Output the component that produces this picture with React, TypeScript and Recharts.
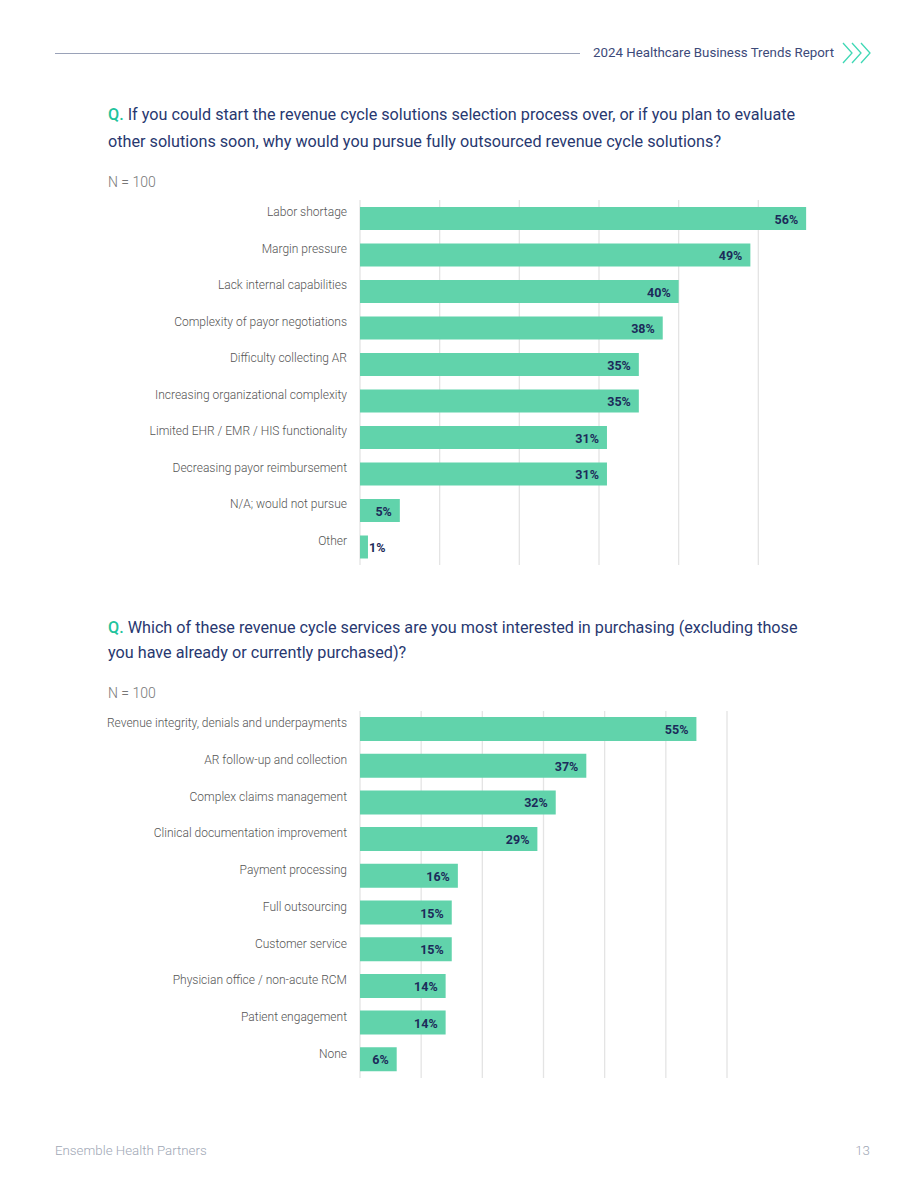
import React from "react";
import { BarChart, Bar, XAxis, YAxis, CartesianGrid, LabelList } from "recharts";

const FONT = "Roboto, 'Open Sans', sans-serif";
const BAR_COLOR = "#61d3ab";
const NAVY = "#283870";
const TEAL = "#22c39c";
const X_MAX = 60;

// Q1: reasons for fully outsourced revenue cycle solutions
const outsourceReasons = [
  "Labor shortage",
  "Margin pressure",
  "Lack internal capabilities",
  "Complexity of payor negotiations",
  "Difficulty collecting AR",
  "Increasing organizational complexity",
  "Limited EHR / EMR / HIS functionality",
  "Decreasing payor reimbursement",
  "N/A; would not pursue",
  "Other",
];
const outsourceValues = [56, 49, 40, 38, 35, 35, 31, 31, 5, 1];
const outsourceTicks = [0, 10, 20, 30, 40, 50];

// Q2: services of most interest
const serviceNames = [
  "Revenue integrity, denials and underpayments",
  "AR follow-up and collection",
  "Complex claims management",
  "Clinical documentation improvement",
  "Payment processing",
  "Full outsourcing",
  "Customer service",
  "Physician office / non-acute RCM",
  "Patient engagement",
  "None",
];
const serviceValues = [55, 37, 32, 29, 16, 15, 15, 14, 14, 6];
const serviceTicks = [0, 10, 20, 30, 40, 50, 60];

const toRows = (names: string[], values: number[]) =>
  names.map((name, i) => ({ name, value: values[i] }));

function CategoryTick(props: any) {
  const { x, y, payload } = props;
  return (
    <text
      x={x}
      y={y}
      dy={-2}
      textAnchor="end"
      fill="#555"
      fontSize={12}
      fontWeight={300}
      fontFamily={FONT}
    >
      {payload.value}
    </text>
  );
}

function ValueLabel(props: any) {
  const { x, y, width, height, value } = props;
  const inside = width > 30;
  return (
    <text
      x={inside ? x + width - 8 : x + width + 1}
      y={y + height / 2}
      dy={5}
      textAnchor={inside ? "end" : "start"}
      fill="#1c2b5a"
      fontSize={12.5}
      fontWeight={700}
      fontFamily={FONT}
    >
      {value}%
    </text>
  );
}

function HBarChart({
  names,
  values,
  ticks,
  top,
  plotHeight,
  rightMargin,
  barSize,
}: {
  names: string[];
  values: number[];
  ticks: number[];
  top: number;
  plotHeight: number;
  rightMargin: number;
  barSize: number;
}) {
  const data = toRows(names, values);
  // vertical grid only at the listed ticks (no extra line at the plot's right edge)
  const gridX = ({ xAxis, offset }: any) =>
    ticks.map((t) =>
      xAxis && typeof xAxis.scale === "function"
        ? xAxis.scale(t)
        : offset.left + (t / X_MAX) * offset.width
    );
  return (
    <div style={{ position: "absolute", left: 0, top }}>
      <BarChart
        layout="vertical"
        width={920}
        height={plotHeight + 20}
        data={data}
        margin={{ top: 10, right: rightMargin, bottom: 10, left: 0 }}
        barCategoryGap={0}
      >
        <CartesianGrid
          horizontal={false}
          stroke="#e4e4e4"
          strokeWidth={1.3}
          verticalCoordinatesGenerator={gridX}
        />
        <XAxis type="number" domain={[0, X_MAX]} ticks={ticks} hide />
        <YAxis
          type="category"
          dataKey="name"
          width={360}
          axisLine={false}
          tickLine={false}
          tickSize={0}
          tickMargin={13}
          interval={0}
          tick={<CategoryTick />}
        />
        <Bar dataKey="value" fill={BAR_COLOR} barSize={barSize} isAnimationActive={false}>
          <LabelList dataKey="value" content={<ValueLabel />} />
        </Bar>
      </BarChart>
    </div>
  );
}

function Text({
  x,
  y,
  size,
  color,
  children,
  right,
  weight,
}: {
  x: number;
  y: number;
  size: number;
  color: string;
  children: React.ReactNode;
  right?: boolean;
  weight?: number;
}) {
  const style: React.CSSProperties = {
    position: "absolute",
    top: y - size * 0.7,
    fontSize: size,
    lineHeight: `${size * 1.4}px`,
    color,
    fontFamily: FONT,
    fontWeight: weight ?? 400,
    whiteSpace: "nowrap",
  };
  if (right) style.right = 920 - x;
  else style.left = x;
  return <div style={style}>{children}</div>;
}

function Chevrons() {
  return (
    <svg
      width={32}
      height={22}
      style={{ position: "absolute", left: 841, top: 42 }}
      fill="none"
      stroke="#3fd8b5"
      strokeWidth={1.3}
    >
      <polyline points="2,1 11,11 2,21" />
      <polyline points="11,1 20,11 11,21" />
      <polyline points="20,1 29,11 20,21" />
    </svg>
  );
}

export default function App() {
  return (
    <div
      style={{
        position: "absolute",
        left: 0,
        top: 0,
        width: 920,
        height: 1191,
        background: "#fff",
        overflow: "hidden",
      }}
    >
      {/* page header */}
      <div
        style={{ position: "absolute", left: 55, top: 53, width: 525, height: 1, background: "#9aa2b8" }}
      />
      <Text x={593} y={53} size={13.3} color="#3c4a79">
        2024 Healthcare Business Trends Report
      </Text>
      <Chevrons />

      {/* question 1 */}
      <Text x={108} y={115} size={16.2} color={NAVY}>
        <span style={{ color: TEAL, fontWeight: 500 }}>Q.</span> If you could start the revenue
        cycle solutions selection process over, or if you plan to evaluate
      </Text>
      <Text x={108} y={142} size={16.2} color={NAVY}>
        other solutions soon, why would you pursue fully outsourced revenue cycle solutions?
      </Text>
      <Text x={108} y={183} size={14} color="#777" weight={300}>
        N = 100
      </Text>
      <HBarChart
        names={outsourceReasons}
        values={outsourceValues}
        ticks={outsourceTicks}
        top={190}
        plotHeight={365}
        rightMargin={82}
        barSize={23}
      />

      {/* question 2 */}
      <Text x={108} y={628} size={16.2} color={NAVY}>
        <span style={{ color: TEAL, fontWeight: 500 }}>Q.</span> Which of these revenue cycle
        services are you most interested in purchasing (excluding those
      </Text>
      <Text x={108} y={653} size={16.2} color={NAVY}>
        you have already or currently purchased)?
      </Text>
      <Text x={108} y={694} size={14} color="#777" weight={300}>
        N = 100
      </Text>
      <HBarChart
        names={serviceNames}
        values={serviceValues}
        ticks={serviceTicks}
        top={701}
        plotHeight={367}
        rightMargin={193}
        barSize={24}
      />

      {/* footer */}
      <Text x={55} y={1151} size={13.3} color="#a0a7b5" weight={300}>
        Ensemble Health Partners
      </Text>
      <Text x={870} y={1151} size={13.3} color="#a0a7b5" weight={300} right>
        13
      </Text>
    </div>
  );
}
